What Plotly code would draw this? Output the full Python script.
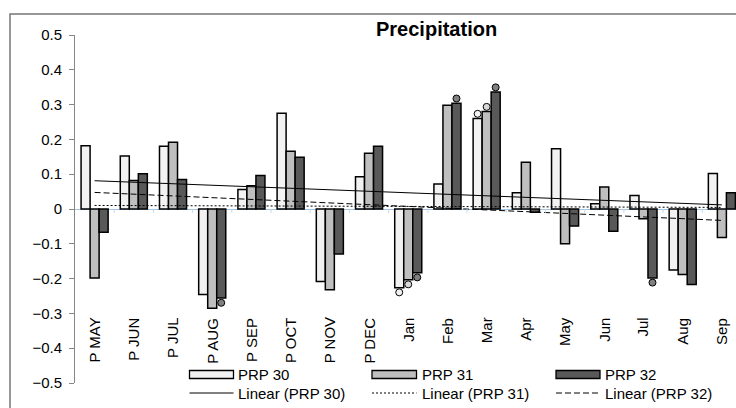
import numpy as np
import plotly.graph_objects as go

# ---------------- data ----------------
categories = ["P MAY", "P JUN", "P JUL", "P AUG", "P SEP", "P OCT", "P NOV", "P DEC",
              "Jan", "Feb", "Mar", "Apr", "May", "Jun", "Jul", "Aug", "Sep"]
prp30 = [0.182, 0.152, 0.180, -0.246, 0.056, 0.275, -0.208, 0.093,
         -0.226, 0.072, 0.260, 0.047, 0.173, 0.015, 0.039, -0.175, 0.102]
prp31 = [-0.198, 0.082, 0.192, -0.285, 0.067, 0.166, -0.232, 0.160,
         -0.203, 0.298, 0.280, 0.134, -0.100, 0.063, -0.028, -0.188, -0.082]
prp32 = [-0.067, 0.101, 0.085, -0.256, 0.096, 0.149, -0.129, 0.180,
         -0.183, 0.304, 0.336, -0.009, -0.049, -0.064, -0.198, -0.217, 0.047]
sig30 = ["Jan", "Mar"]
sig31 = ["Jan", "Mar"]
sig32 = ["P AUG", "Jan", "Feb", "Mar", "Jul"]
series_names = ["PRP 30", "PRP 31", "PRP 32"]
trend_names = ["Linear (PRP 30)", "Linear (PRP 31)", "Linear (PRP 32)"]
y_ticks = [-0.5, -0.4, -0.3, -0.2, -0.1, 0, 0.1, 0.2, 0.3, 0.4, 0.5]

# ---------------- styling ----------------
FONT = "Liberation Sans, Arial, sans-serif"
fills = ["#f2f2f2", "#bfbfbf", "#595959"]
dot_fills = ["#f2f2f2", "#d9d9d9", "#808080"]
dashes = ["solid", "2px,2px", "6px,3px"]
W, H = 736, 408
ML, MR, MT, MB = 75, 0, 35, 25
pw, ph = W - ML - MR, H - MT - MB
BARGAP = 0.31


def pxx(x):
    return (x - ML) / pw


def pxy(y):
    return (H - MB - y) / ph


idx = np.arange(len(categories))
fig = go.Figure()
all_vals = [prp30, prp31, prp32]
all_sig = [sig30, sig31, sig32]
bw = (1 - BARGAP) / 3

for k, (name, vals, col) in enumerate(zip(series_names, all_vals, fills)):
    fig.add_trace(go.Bar(x=idx, y=vals, name=name, showlegend=False,
                         marker=dict(color=col, line=dict(color="black", width=1.5))))

# significance dots
for k, (vals, sig) in enumerate(zip(all_vals, all_sig)):
    xs, ys = [], []
    for c in sig:
        i = categories.index(c)
        v = vals[i]
        xs.append(i + (k - 1) * bw)
        ys.append(v + np.sign(v) * 0.0135)
    fig.add_trace(go.Scatter(x=xs, y=ys, mode="markers", showlegend=False,
                             marker=dict(symbol="circle", size=7, color=dot_fills[k],
                                         line=dict(color="black", width=1))))

# linear trend lines
for k, vals in enumerate(all_vals):
    coef = np.polyfit(idx, vals, 1)
    xl = np.array([idx[0], idx[-1]])
    fig.add_trace(go.Scatter(x=xl, y=np.polyval(coef, xl), mode="lines", showlegend=False,
                             line=dict(color="black", width=1, dash=dashes[k])))

shapes = []
# faint category boundary ticks on the zero line
for i in idx[:-1]:
    shapes.append(dict(type="line", xref="x", yref="y", x0=i + 0.5, x1=i + 0.5,
                       y0=0, y1=-0.011, line=dict(color="#c8d6e5", width=1)))

annotations = []
# category labels (rotated)
for i, c in enumerate(categories):
    annotations.append(dict(x=i, y=-0.306, xref="x", yref="y", text=c, showarrow=False,
                            textangle=-90, xanchor="center", yanchor="top",
                            font=dict(family=FONT, size=15, color="black")))

# title
annotations.append(dict(x=pxx(436), y=pxy(29), xref="paper", yref="paper",
                        text="<b>Precipitation</b>", showarrow=False,
                        xanchor="center", yanchor="middle",
                        font=dict(family=FONT, size=20, color="black")))

# custom legend
cols_x = [(189.5, 233.5, 236), (372, 416.5, 420), (556, 600, 603)]
row1, row2 = 374.5, 393
for k in range(3):
    x0, x1, xt = cols_x[k]
    shapes.append(dict(type="rect", xref="paper", yref="paper",
                       x0=pxx(x0), x1=pxx(x1), y0=pxy(row1 - 4), y1=pxy(row1 + 4),
                       fillcolor=fills[k], line=dict(color="black", width=1.3)))
    shapes.append(dict(type="line", xref="paper", yref="paper",
                       x0=pxx(x0), x1=pxx(x1), y0=pxy(row2), y1=pxy(row2),
                       line=dict(color="black", width=1, dash=dashes[k])))
    annotations.append(dict(x=pxx(xt), y=pxy(row1), xref="paper", yref="paper",
                            text=series_names[k], showarrow=False, xanchor="left",
                            yanchor="middle", font=dict(family=FONT, size=15, color="black")))
    annotations.append(dict(x=pxx(xt), y=pxy(row2), xref="paper", yref="paper",
                            text=trend_names[k], showarrow=False, xanchor="left",
                            yanchor="middle", font=dict(family=FONT, size=15, color="black")))

# outer chart border (cropped at right/bottom)
shapes.append(dict(type="rect", xref="paper", yref="paper",
                   x0=pxx(10), x1=pxx(1000), y0=pxy(14), y1=pxy(700),
                   line=dict(color="#767676", width=1.5), fillcolor="rgba(0,0,0,0)"))

fig.update_layout(
    width=W, height=H, margin=dict(l=ML, r=MR, t=MT, b=MB),
    paper_bgcolor="white", plot_bgcolor="white",
    barmode="group", bargap=BARGAP, bargroupgap=0,
    showlegend=False, shapes=shapes, annotations=annotations,
    font=dict(family=FONT, color="black"),
)
fig.update_xaxes(range=[-0.5, 16.36], showticklabels=False, showgrid=False,
                 zeroline=False, showline=False, ticks="")
fig.update_yaxes(range=[-0.5, 0.5], tickvals=y_ticks, showgrid=False,
                 zeroline=True, zerolinecolor="#9dc3e6", zerolinewidth=1,
                 showline=True, linecolor="#868686", linewidth=1,
                 ticks="outside", ticklen=5, tickcolor="#868686",
                 tickfont=dict(family=FONT, size=15, color="black"),
                 ticklabelstandoff=4)
fig.write_html("out.html")
